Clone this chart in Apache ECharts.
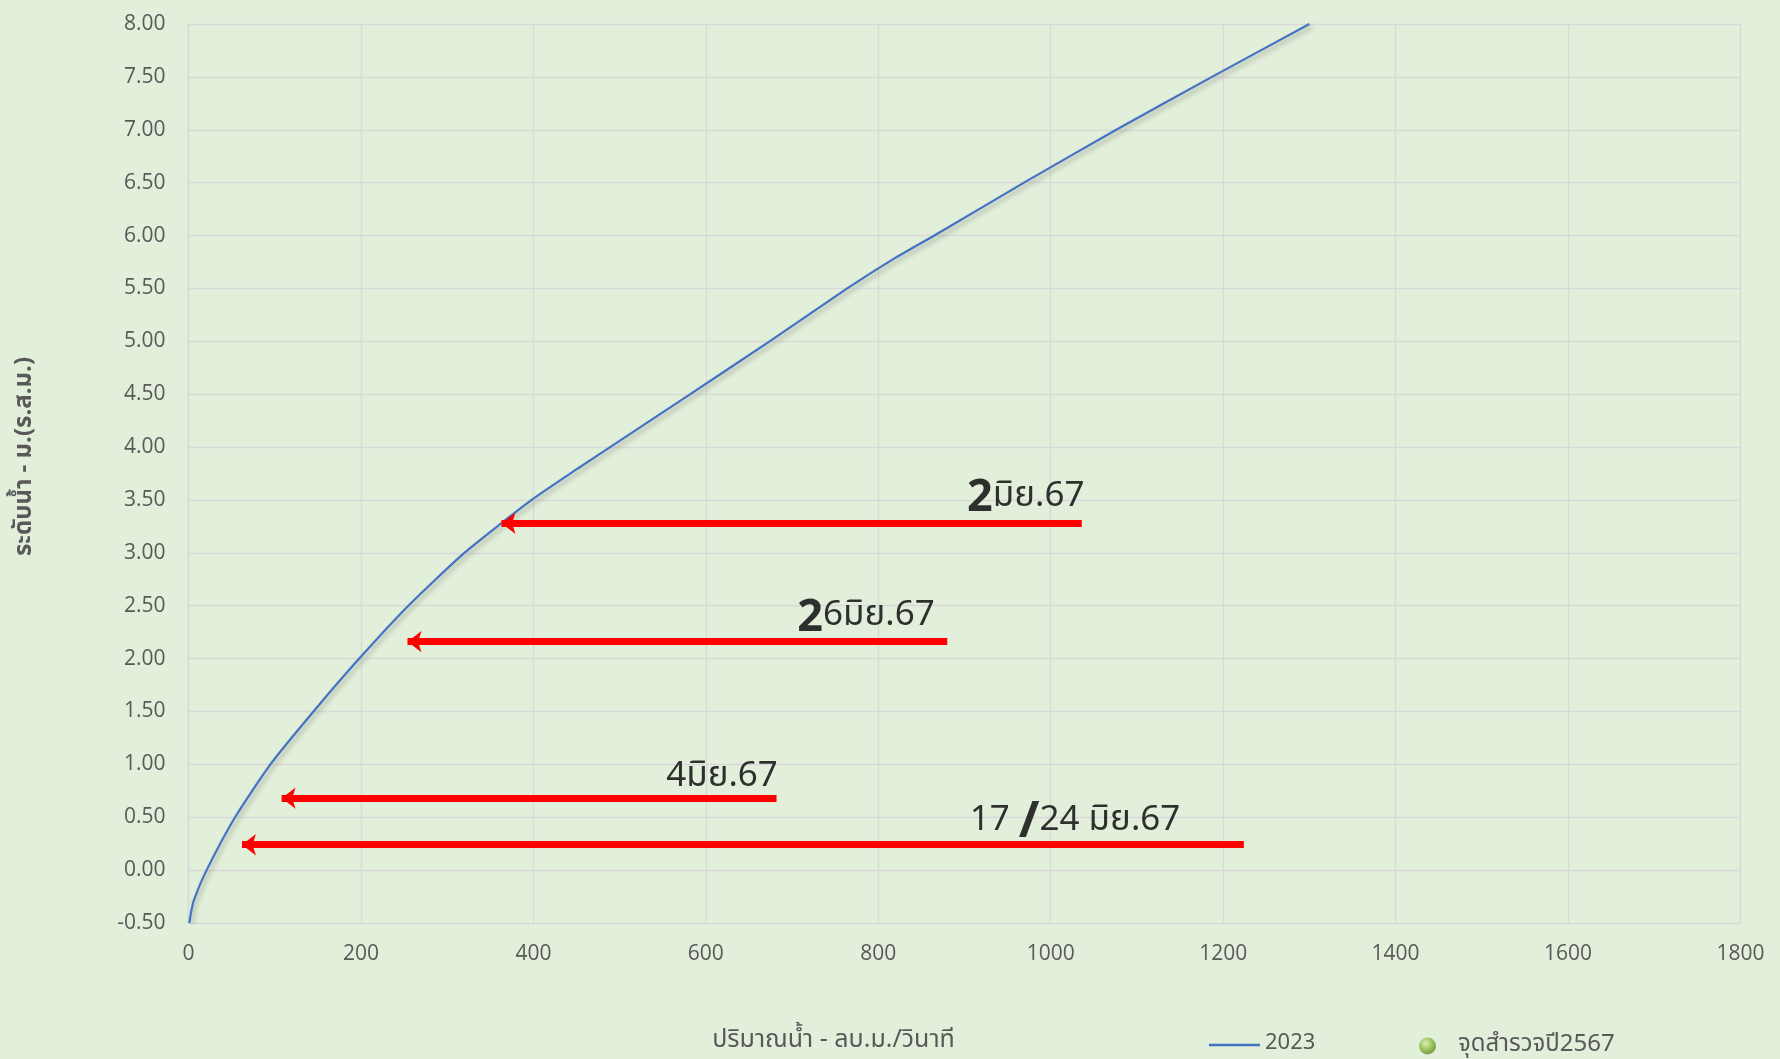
<!DOCTYPE html>
<html><head><meta charset="utf-8">
<script src="https://cdn.jsdelivr.net/npm/echarts@6/dist/echarts.min.js"></script>
<style>html,body{margin:0;padding:0;background:#E2EFDA;overflow:hidden}#c{width:1780px;height:1059px}</style>
</head><body><div id="c"></div>
<script>
// Rating curve 2023 (discharge m3/s, stage m MSL)
const discharge = [1, 3, 6, 21, 54, 95, 145, 198, 255, 320, 398, 452, 489, 582, 674, 764, 822, 865, 969, 1076, 1187, 1300];
const stage     = [-0.5, -0.4, -0.29, 0, 0.5, 1.0, 1.5, 2.0, 2.5, 3.0, 3.5, 3.8, 4.0, 4.5, 5.0, 5.5, 5.8, 6.0, 6.5, 7.0, 7.5, 8.0];

// Survey 2567 annotations (arrows)
const arrowLabels = ['2มิย.67', '26มิย.67', '4มิย.67', '17 /24 มิย.67'];
const arrowStage  = [3.28, 2.16, 0.68, 0.24];
const arrowFromQ  = [1036, 880, 682, 1224];
const arrowToQ    = [363, 254, 108, 62];
const labelQ      = [903, 706, 554, 906];
const labelStage  = [3.30, 2.17, 0.70, 0.21];

const yTicks = {min: -0.5, max: 8, interval: 0.5};
const xTicks = {min: 0, max: 1800, interval: 200};

const seriesNames = ['2023', 'จุดสำรวจปี2567'];
const surveyPoints = [];

const curve = discharge.map((q, i) => [q, stage[i]]);
const THAI = '"Noto Sans Thai","Leelawadee UI",Tahoma,"Noto Sans",sans-serif';

function richFormat(s) {
  // leading "2" of a date drawn large and bold; the slash drawn large and bold
  let out = '';
  if (/^2/.test(s) && s.indexOf('/') < 0) { out += '{big|2}'; s = s.slice(1); }
  const parts = s.split('/');
  out += '{n|' + parts[0] + '}';
  if (parts.length > 1) out += '{sl|/}{n|' + parts[1] + '}';
  return out;
}

const chart = echarts.init(document.getElementById('c'), null, {renderer: 'canvas'});
chart.setOption({
  backgroundColor: '#E2EFDA',
  animation: false,
  grid: {left: 188.5, right: 39.5, top: 24, bottom: 132, containLabel: false},
  xAxis: {
    type: 'value', min: xTicks.min, max: xTicks.max, interval: xTicks.interval,
    name: 'ปริมาณน้ำ - ลบ.ม./วินาที', nameLocation: 'middle', nameGap: 106,
    nameTextStyle: {color: '#595959', fontSize: 25, fontFamily: THAI, padding: [0, 262, 0, 0]},
    axisLine: {show: true, lineStyle: {color: '#D9D9D9', width: 1.3}},
    axisTick: {show: false},
    axisLabel: {color: '#595959', fontSize: 21, fontFamily: '"Open Sans"', margin: 21,
      formatter: v => String(v)},
    splitLine: {show: true, lineStyle: {color: '#D9D9D9', width: 1.3}}
  },
  yAxis: {
    type: 'value', min: yTicks.min, max: yTicks.max, interval: yTicks.interval,
    name: 'ระดับน้ำ - ม.(ร.ส.ม.)', nameLocation: 'middle', nameGap: 150,
    nameTextStyle: {color: '#595959', fontSize: 24, fontWeight: 'bold', fontFamily: THAI, padding: [0, 0, 0, 34]},
    axisLine: {show: true, lineStyle: {color: '#D9D9D9', width: 1.3}},
    axisTick: {show: false},
    axisLabel: {color: '#595959', fontSize: 21, fontFamily: '"Open Sans"', margin: 23,
      formatter: v => v.toFixed(2)},
    splitLine: {show: true, lineStyle: {color: '#D9D9D9', width: 1.3}}
  },
  legend: [
    {data: [{name: seriesNames[0], icon: 'rect'}], left: 1204, top: 1029, itemWidth: 51, itemHeight: 2.5,
     itemStyle: {color: '#4472C4'},
     textStyle: {color: '#595959', fontSize: 22, fontFamily: THAI}},
    {data: [{name: seriesNames[1], icon: 'circle'}], left: 1414, top: 1029, itemWidth: 17, itemHeight: 19,
     textStyle: {color: '#595959', fontSize: 24, fontFamily: THAI, padding: [0, 0, 0, 17]}}
  ],
  series: [
    {
      name: seriesNames[0], type: 'line', data: curve, smooth: 0.2, symbol: 'none',
      lineStyle: {color: '#4472C4', width: 2.2, shadowColor: 'rgba(0,0,0,0.3)', shadowBlur: 5, shadowOffsetX: 2, shadowOffsetY: 3},
      itemStyle: {color: '#4472C4'},
      z: 3
    },
    {
      name: seriesNames[1], type: 'scatter', data: surveyPoints, symbol: 'circle', symbolSize: 16,
      itemStyle: {color: {type: 'radial', x: 0.4, y: 0.35, r: 0.75,
        colorStops: [{offset: 0, color: '#D9F2A6'}, {offset: 0.5, color: '#8DB83E'}, {offset: 1, color: '#4F7A17'}]}}
    },
    {
      name: 'arrows', type: 'line', data: [], silent: true, z: 4,
      markLine: {
        silent: true, animation: false,
        symbol: ['none', 'arrow'], symbolSize: [16, 14],
        lineStyle: {color: '#FF0000', width: 7, type: 'solid'},
        label: {show: false},
        emphasis: {disabled: true},
        data: arrowStage.map((h, i) => [{coord: [arrowFromQ[i], h]}, {coord: [arrowToQ[i], h]}])
      }
    },
    {
      name: 'labels', type: 'scatter', symbolSize: 0, silent: true, z: 5,
      data: labelQ.map((q, i) => ({value: [q, labelStage[i]], name: arrowLabels[i]})),
      label: {
        show: true, position: [0, 0], align: 'left', verticalAlign: 'bottom',
        formatter: p => richFormat(p.name),
        rich: {
          n: {fontSize: 35, color: '#000', fontFamily: THAI},
          big: {fontSize: 45, fontWeight: 'bold', color: '#000', fontFamily: '"Open Sans"'},
          sl: {fontSize: 50, fontWeight: 'bold', color: '#000', fontFamily: '"Open Sans"'}
        }
      }
    }
  ]
});
</script></body></html>
